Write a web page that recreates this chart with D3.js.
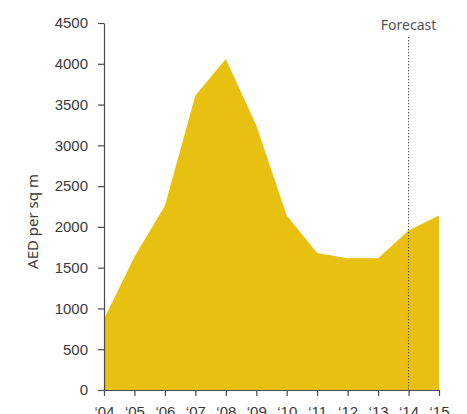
<!DOCTYPE html>
<html>
<head>
<meta charset="utf-8">
<script src="https://cdn.jsdelivr.net/npm/d3@7"></script>
<style>
  html, body { margin: 0; padding: 0; background: #fff; }
  svg { display: block; font-family: "Noto Sans", "Open Sans", sans-serif; }
  .axis path, .axis line { stroke: #4a4a4a; stroke-width: 1.2; }
  .axis text { fill: #3a3a3a; font-size: 15px; }
</style>
</head>
<body>
<svg id="chart" width="467" height="414"></svg>
<script>
// Residential price per square metre, AED
const years = ["\u201804", "\u201805", "\u201806", "\u201807", "\u201808", "\u201809", "\u201810", "\u201811", "\u201812", "\u201813", "\u201814", "\u201815"];
const prices = [870, 1635, 2260, 3610, 4060, 3245, 2140, 1680, 1615, 1615, 1955, 2140];
const yTicks = [0, 500, 1000, 1500, 2000, 2500, 3000, 3500, 4000, 4500];
const forecastFrom = "\u201814";

const svg = d3.select("#chart");
const margin = { left: 104, right: 28, top: 23, bottom: 24 };
const W = 467, H = 414;

const x = d3.scalePoint().domain(years).range([margin.left, W - margin.right]);
const y = d3.scaleLinear().domain([0, 4500]).range([H - margin.bottom, margin.top]);

// filled area
const area = d3.area()
  .x((d, i) => x(years[i]))
  .y0(y(0))
  .y1(d => y(d));

svg.append("path")
  .datum(prices)
  .attr("d", area)
  .attr("fill", "#E8C110");

// forecast marker
svg.append("line")
  .attr("x1", x(forecastFrom)).attr("x2", x(forecastFrom))
  .attr("y1", 37).attr("y2", y(0))
  .attr("stroke", "#555")
  .attr("stroke-width", 1.2)
  .attr("stroke-dasharray", "1.3,1.7");

svg.append("text")
  .attr("x", x(forecastFrom))
  .attr("y", 30)
  .attr("text-anchor", "middle")
  .attr("fill", "#555")
  .attr("font-size", 14)
  .text("Forecast");

// axes
svg.append("g")
  .attr("class", "axis")
  .attr("transform", `translate(${margin.left},0)`)
  .call(d3.axisLeft(y).tickValues(yTicks).tickFormat(d3.format("d")).tickSize(6).tickPadding(10).tickSizeOuter(0));

svg.append("g")
  .attr("class", "axis")
  .attr("transform", `translate(0,${y(0)})`)
  .call(d3.axisBottom(x).tickSize(6).tickPadding(10).tickSizeOuter(0));

svg.append("text")
  .attr("transform", `translate(38,${(margin.top + H - margin.bottom) / 2 + 15}) rotate(-90)`)
  .attr("text-anchor", "middle")
  .attr("fill", "#3a3a3a")
  .attr("font-size", 15)
  .text("AED per sq m");
</script>
</body>
</html>
